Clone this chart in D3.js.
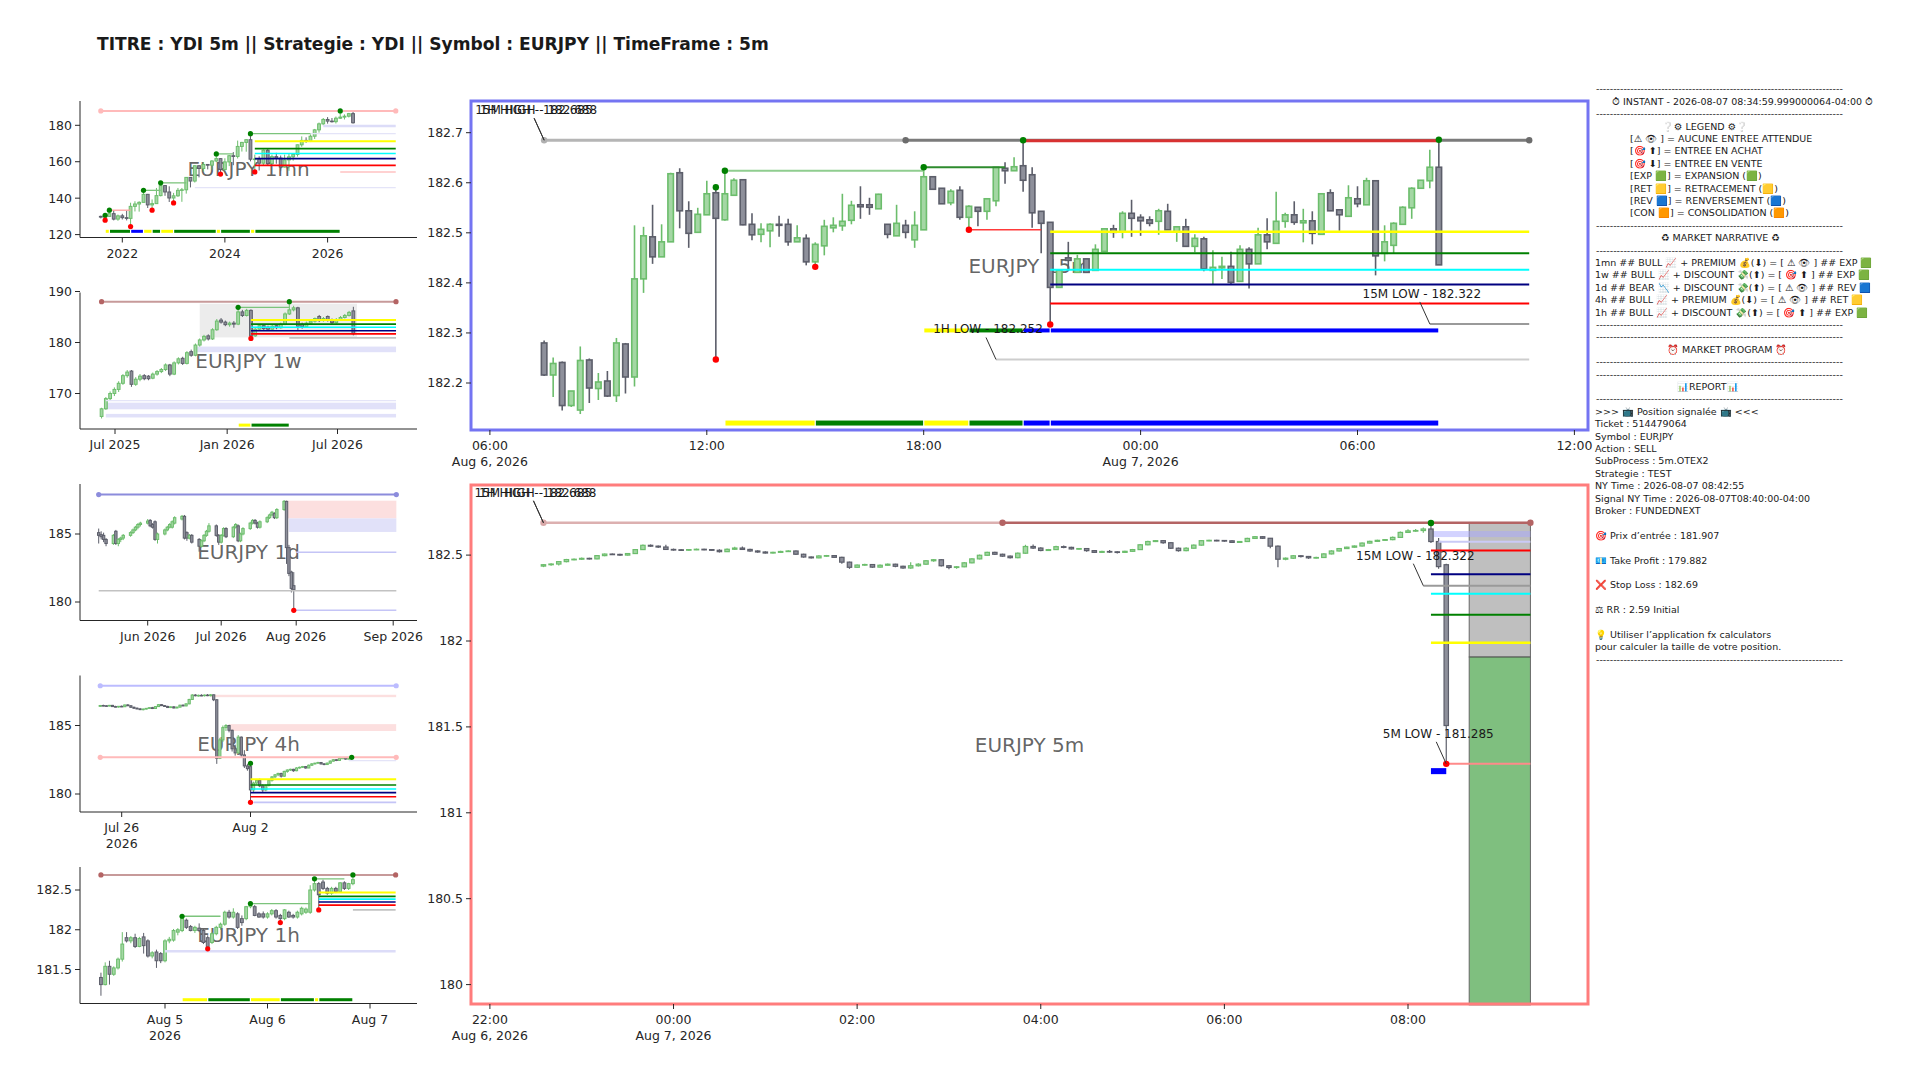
<!DOCTYPE html>
<html>
<head>
<meta charset="utf-8">
<script src="https://cdn.jsdelivr.net/npm/d3@7"></script>
<style>
  body { margin: 0; background: #fff; }
  svg { font-family: "DejaVu Sans", "Noto Sans", sans-serif; }
</style>
</head>
<body>
<svg id="chart" width="1920" height="1080"></svg>
<script>
const title = "TITRE : YDI 5m || Strategie : YDI || Symbol : EURJPY || TimeFrame : 5m";
const symbol = "EURJPY";

// ---------- main top chart : 15m candles [open, high, low, close]
const m15Start = "2026-08-06 07:30";
const m15 = [
  [182.280,182.285,182.214,182.216],[182.216,182.251,182.172,182.239],[182.241,182.243,182.145,182.155],[182.155,182.184,182.152,182.184],
  [182.146,182.273,182.138,182.245],[182.246,182.249,182.160,182.190],[182.189,182.220,182.166,182.202],[182.204,182.224,182.172,182.174],
  [182.175,182.290,182.162,182.280],[182.278,182.280,182.179,182.212],[182.212,182.515,182.193,182.408],[182.408,182.512,182.380,182.494],
  [182.492,182.556,182.438,182.452],[182.452,182.517,182.452,182.482],[182.482,182.620,182.482,182.618],[182.620,182.629,182.509,182.544],
  [182.544,182.563,182.470,182.499],[182.501,182.550,182.501,182.537],[182.536,182.604,182.536,182.578],[182.580,182.591,182.247,182.529],
  [182.526,182.624,182.524,182.578],[182.575,182.609,182.575,182.605],[182.606,182.606,182.515,182.516],[182.517,182.539,182.485,182.496],
  [182.497,182.519,182.481,182.507],[182.504,182.519,182.471,182.517],[182.517,182.534,182.492,182.515],[182.517,182.528,182.474,182.482],
  [182.482,182.515,182.482,182.490],[182.489,182.497,182.435,182.442],[182.442,182.481,182.432,182.477],[182.474,182.526,182.455,182.513],
  [182.510,182.531,182.501,182.515],[182.514,182.578,182.504,182.523],[182.525,182.564,182.517,182.555],[182.556,182.593,182.528,182.552],
  [182.556,182.570,182.536,182.551],[182.548,182.578,182.548,182.577],[182.517,182.517,182.489,182.497],[182.494,182.556,182.494,182.519],
  [182.515,182.526,182.489,182.501],[182.486,182.543,182.470,182.515],[182.506,182.631,182.506,182.612],[182.612,182.612,182.587,182.587],
  [182.589,182.589,182.558,182.558],[182.560,182.587,182.555,182.583],[182.585,182.593,182.526,182.531],[182.531,182.555,182.506,182.553],
  [182.551,182.551,182.513,182.543],[182.543,182.568,182.526,182.568],[182.564,182.631,182.553,182.631],[182.629,182.641,182.598,182.624],
  [182.624,182.651,182.624,182.632],[182.634,182.685,182.582,182.605],[182.616,182.631,182.510,182.540],[182.543,182.543,182.459,182.519],
  [182.521,182.521,182.317,182.391],[182.391,182.425,182.391,182.425],[182.450,182.482,182.425,182.445],[182.421,182.456,182.421,182.448],
  [182.448,182.448,182.421,182.421],[182.425,182.477,182.425,182.467],[182.463,182.509,182.463,182.508],[182.508,182.516,182.490,182.501],
  [182.502,182.543,182.489,182.539],[182.539,182.566,182.492,182.529],[182.531,182.537,182.494,182.524],[182.526,182.533,182.513,182.519],
  [182.523,182.548,182.496,182.544],[182.543,182.558,182.506,182.506],[182.502,182.512,182.482,182.512],[182.512,182.528,182.473,182.473],
  [182.473,182.497,182.461,182.489],[182.488,182.492,182.423,182.428],[182.425,182.465,182.398,182.431],[182.430,182.452,182.408,182.433],
  [182.433,182.462,182.396,182.401],[182.403,182.475,182.403,182.467],[182.467,182.471,182.389,182.438],[182.438,182.510,182.438,182.496],
  [182.496,182.529,182.467,182.482],[182.479,182.582,182.479,182.523],[182.523,182.540,182.510,182.536],[182.536,182.563,182.516,182.521],
  [182.520,182.548,182.481,182.524],[182.524,182.543,182.477,182.499],[182.497,182.578,182.497,182.578],[182.580,182.587,182.544,182.544],
  [182.546,182.546,182.504,182.536],[182.533,182.595,182.533,182.570],[182.568,182.593,182.551,182.558],[182.556,182.610,182.556,182.604],
  [182.604,182.605,182.415,182.454],[182.459,182.515,182.443,182.482],[182.475,182.521,182.459,182.519],[182.517,182.553,182.517,182.551],
  [182.550,182.591,182.528,182.589],[182.589,182.605,182.589,182.605],[182.604,182.666,182.589,182.631],[182.631,182.686,182.436,182.436]
];
const m15Levels = [
  ["2026-08-06 07:30", "2026-08-06 17:30", 182.685, "hiOld"],
  ["2026-08-06 17:30", "2026-08-07 10:45", 182.685, "hiNew"],
  ["2026-08-06 20:45", "2026-08-07 08:15", 182.684, "broken"],
  ["2026-08-06 12:30", "2026-08-06 18:00", 182.624, "swingOld"],
  ["2026-08-06 18:00", "2026-08-06 20:15", 182.631, "swing"],
  ["2026-08-06 19:15", "2026-08-06 21:15", 182.506, "swingLo"],
  ["2026-08-06 21:30", "2026-08-07 10:45", 182.502, "fibY"],
  ["2026-08-06 21:30", "2026-08-07 10:45", 182.459, "fibG"],
  ["2026-08-06 21:30", "2026-08-07 10:45", 182.426, "fibC"],
  ["2026-08-06 21:30", "2026-08-07 10:45", 182.397, "fibN"],
  ["2026-08-06 21:30", "2026-08-07 10:45", 182.359, "fibR"],
  ["2026-08-07 08:00", "2026-08-07 10:45", 182.318, "liq"],
  ["2026-08-06 20:00", "2026-08-07 10:45", 182.247, "liqLight"]
];
const m15Dots = [
  ["2026-08-06 07:30", 182.685, "endGray"], ["2026-08-06 17:30", 182.685, "endDark"], ["2026-08-07 10:45", 182.685, "endDark"],
  ["2026-08-06 12:15", 182.591, "hi"], ["2026-08-06 12:30", 182.624, "hi"], ["2026-08-06 18:00", 182.631, "hi"],
  ["2026-08-06 20:45", 182.685, "hi"], ["2026-08-07 08:15", 182.686, "hi"],
  ["2026-08-06 12:15", 182.247, "lo"], ["2026-08-06 15:00", 182.432, "lo"], ["2026-08-06 19:15", 182.506, "lo"], ["2026-08-06 21:30", 182.317, "lo"]
];
const m15PhaseLow = 182.12;
const m15PhasesLow = [
  ["2026-08-06 12:30", "2026-08-06 15:00", "RET"], ["2026-08-06 15:00", "2026-08-06 18:00", "EXP"],
  ["2026-08-06 18:00", "2026-08-06 19:15", "RET"], ["2026-08-06 19:15", "2026-08-06 20:45", "EXP"],
  ["2026-08-06 20:45", "2026-08-06 21:30", "REV"], ["2026-08-06 21:30", "2026-08-07 08:15", "REV"]
];
const m15PhaseMid = 182.305;
const m15PhasesMid = [
  ["2026-08-06 18:00", "2026-08-06 19:15", "RET"], ["2026-08-06 19:15", "2026-08-06 20:45", "EXP"],
  ["2026-08-06 20:45", "2026-08-06 21:30", "REV"], ["2026-08-06 21:30", "2026-08-07 08:15", "REV"]
];
const m15Notes = [
  ["15M HIGH - 182.688", "2026-08-06 07:30", 182.685],
  ["1H HIGH - 182.685", "2026-08-06 07:30", 182.685],
  ["1H LOW - 182.252", "2026-08-06 20:00", 182.247],
  ["15M LOW - 182.322", "2026-08-07 08:00", 182.318]
];
const m15XTicks = [
  ["2026-08-06 06:00", "06:00", "Aug 6, 2026"], ["2026-08-06 12:00", "12:00", ""], ["2026-08-06 18:00", "18:00", ""],
  ["2026-08-07 00:00", "00:00", "Aug 7, 2026"], ["2026-08-07 06:00", "06:00", ""], ["2026-08-07 12:00", "12:00", ""]
];
const m15YTicks = [182.2, 182.3, 182.4, 182.5, 182.6, 182.7];

// ---------- main bottom chart : 5m candles
const m5Start = "2026-08-06 22:35";
const m5 = [
  [182.436,182.447,182.430,182.444],[182.444,182.452,182.438,182.448],[182.448,182.466,182.440,182.462],[182.462,182.478,182.458,182.474],
  [182.474,182.480,182.470,182.476],[182.476,182.486,182.472,182.481],[182.481,182.484,182.474,182.478],[182.478,182.500,182.476,182.497],
  [182.497,182.510,182.494,182.506],[182.506,182.510,182.500,182.504],[182.504,182.508,182.496,182.500],[182.500,182.512,182.498,182.509],
  [182.509,182.536,182.506,182.532],[182.532,182.562,182.530,182.557],[182.557,182.562,182.548,182.552],[182.552,182.556,182.542,182.547],
  [182.547,182.560,182.530,182.533],[182.533,182.538,182.526,182.531],[182.531,182.535,182.524,182.529],[182.529,182.536,182.526,182.532],
  [182.532,182.538,182.529,182.534],[182.534,182.537,182.528,182.532],[182.532,182.536,182.525,182.528],[182.528,182.534,182.515,182.520],
  [182.520,182.538,182.518,182.534],[182.534,182.548,182.530,182.541],[182.541,182.550,182.530,182.533],[182.533,182.537,182.520,182.524],
  [182.524,182.528,182.514,182.518],[182.518,182.522,182.509,182.512],[182.512,182.520,182.509,182.516],[182.516,182.525,182.513,182.521],
  [182.521,182.528,182.518,182.524],[182.524,182.527,182.500,182.505],[182.505,182.508,182.485,182.489],[182.489,182.492,182.480,182.484],
  [182.484,182.499,182.482,182.495],[182.495,182.501,182.490,182.497],[182.497,182.500,182.484,182.487],[182.487,182.490,182.450,182.459],
  [182.459,182.462,182.420,182.429],[182.429,182.446,182.426,182.442],[182.442,182.450,182.438,182.445],[182.445,182.448,182.426,182.430],
  [182.430,182.445,182.428,182.441],[182.441,182.451,182.438,182.447],[182.447,182.450,182.430,182.435],[182.435,182.438,182.420,182.425],
  [182.425,182.459,182.420,182.438],[182.438,182.452,182.434,182.447],[182.447,182.472,182.444,182.467],[182.467,182.478,182.462,182.473],
  [182.473,182.476,182.434,182.438],[182.438,182.441,182.418,182.428],[182.428,182.436,182.420,182.432],[182.432,182.460,182.430,182.455],
  [182.455,182.482,182.452,182.478],[182.478,182.503,182.475,182.499],[182.499,182.520,182.496,182.516],[182.516,182.519,182.500,182.505],
  [182.505,182.508,182.490,182.494],[182.494,182.497,182.480,182.485],[182.485,182.515,182.482,182.511],[182.511,182.560,182.508,182.550],
  [182.550,182.562,182.536,182.541],[182.541,182.545,182.522,182.527],[182.527,182.536,182.524,182.532],[182.532,182.554,182.530,182.549],
  [182.549,182.556,182.540,182.545],[182.545,182.548,182.532,182.536],[182.536,182.541,182.532,182.538],[182.538,182.540,182.520,182.526],
  [182.526,182.529,182.512,182.516],[182.516,182.526,182.512,182.521],[182.521,182.530,182.512,182.519],[182.519,182.522,182.510,182.516],
  [182.516,182.526,182.514,182.522],[182.522,182.536,182.520,182.532],[182.532,182.564,182.530,182.560],[182.560,182.583,182.558,182.579],
  [182.579,182.588,182.576,182.584],[182.584,182.588,182.566,182.572],[182.572,182.575,182.535,182.540],[182.540,182.544,182.520,182.526],
  [182.526,182.545,182.523,182.540],[182.540,182.562,182.538,182.558],[182.558,182.588,182.555,182.584],[182.584,182.590,182.580,182.586],
  [182.586,182.590,182.581,182.585],[182.585,182.588,182.578,182.583],[182.583,182.586,182.570,182.574],[182.574,182.582,182.571,182.579],
  [182.579,182.601,182.576,182.597],[182.597,182.611,182.594,182.607],[182.607,182.610,182.594,182.598],[182.598,182.600,182.540,182.552],
  [182.552,182.556,182.430,182.476],[182.476,182.486,182.470,182.482],[182.482,182.500,182.478,182.496],[182.496,182.499,182.486,182.492],
  [182.492,182.495,182.478,182.484],[182.484,182.490,182.480,182.486],[182.486,182.511,182.483,182.507],[182.507,182.528,182.504,182.524],
  [182.524,182.541,182.521,182.538],[182.538,182.549,182.535,182.546],[182.546,182.556,182.543,182.553],[182.553,182.574,182.550,182.570],
  [182.570,182.583,182.567,182.580],[182.580,182.589,182.577,182.586],[182.586,182.594,182.583,182.590],[182.590,182.608,182.587,182.603],
  [182.603,182.638,182.600,182.632],[182.632,182.650,182.628,182.641],[182.641,182.652,182.636,182.643],[182.643,182.660,182.630,182.652],
  [182.652,182.687,182.570,182.579],[182.579,182.600,182.420,182.433],[182.444,182.450,181.285,181.508]
];
const m5Levels = [
  ["2026-08-06 22:35", "2026-08-07 03:35", 182.688, "hiOld5"],
  ["2026-08-07 03:35", "2026-08-07 09:20", 182.688, "hiNew5"],
  ["2026-08-07 08:20", "2026-08-07 09:20", 182.577, "zoneLine"],
  ["2026-08-07 08:15", "2026-08-07 09:20", 182.527, "fibR"],
  ["2026-08-07 08:15", "2026-08-07 09:20", 182.388, "fibN"],
  ["2026-08-07 08:10", "2026-08-07 09:20", 182.322, "liq"],
  ["2026-08-07 08:15", "2026-08-07 09:20", 182.275, "fibC"],
  ["2026-08-07 08:15", "2026-08-07 09:20", 182.153, "fibG"],
  ["2026-08-07 08:15", "2026-08-07 09:20", 181.990, "fibY"],
  ["2026-08-07 08:25", "2026-08-07 09:20", 181.285, "loLine"]
];
const m5Zones = [
  ["2026-08-07 08:15", "2026-08-07 09:20", 182.605, 182.640, "zone"],
  ["2026-08-07 08:15", "2026-08-07 08:25", 181.225, 181.260, "block"]
];
const m5Dots = [
  ["2026-08-06 22:35", 182.688, "endRosyLight"], ["2026-08-07 03:35", 182.688, "endRosy"], ["2026-08-07 09:20", 182.688, "endRosy"],
  ["2026-08-07 08:15", 182.687, "hi"], ["2026-08-07 08:25", 181.285, "lo"]
];
const m5Notes = [
  ["15M HIGH - 182.688", "2026-08-06 22:35", 182.688],
  ["1H HIGH - 182.685", "2026-08-06 22:35", 182.688],
  ["15M LOW - 182.322", "2026-08-07 08:10", 182.322],
  ["5M LOW - 181.285", "2026-08-07 08:25", 181.285]
];
const entryPrice = 181.907, takeProfit = 179.882, stopLoss = 182.69;
const tradeFrom = "2026-08-07 08:40", tradeTo = "2026-08-07 09:20";
const m5XTicks = [
  ["2026-08-06 22:00", "22:00", "Aug 6, 2026"], ["2026-08-07 00:00", "00:00", "Aug 7, 2026"], ["2026-08-07 02:00", "02:00", ""],
  ["2026-08-07 04:00", "04:00", ""], ["2026-08-07 06:00", "06:00", ""], ["2026-08-07 08:00", "08:00", ""]
];
const m5YTicks = [180, 180.5, 181, 181.5, 182, 182.5];

// ---------- small panel 1mn : monthly candles
const mnStart = "2021-08-01";
const mn = [
  [130.0,130.4,128.9,129.6],[129.6,130.6,127.9,130.0],[130.0,133.4,129.7,131.5],[131.5,133.2,127.8,128.5],[128.5,131.0,127.6,130.3],
  [130.3,131.4,128.3,129.3],[129.3,133.1,127.8,128.9],[128.9,137.5,124.4,135.5],[135.5,138.3,132.7,136.8],[136.8,138.3,132.6,137.7],
  [137.7,144.3,137.7,142.1],[142.1,142.3,134.6,136.3],[136.3,139.3,133.4,137.0],[137.0,145.6,137.0,141.4],[141.4,148.4,141.0,146.9],
  [146.9,147.0,141.3,143.4],[143.4,146.5,137.9,140.1],[140.1,142.9,137.4,141.3],[141.3,145.6,140.7,144.3],[144.3,145.6,138.0,144.6],
  [144.6,151.6,142.5,151.4],[151.4,151.6,145.9,149.4],[149.4,158.0,148.6,157.8],[157.8,158.0,151.4,156.3],[156.3,159.8,154.6,158.5],
  [158.5,158.7,155.8,158.1],[158.1,160.9,155.6,160.4],[160.4,164.3,159.8,161.7],[161.7,162.0,153.2,155.7],[155.7,161.9,155.1,159.9],
  [159.9,163.7,157.6,163.3],[163.3,165.3,158.1,162.9],[162.9,171.6,161.8,168.4],[168.4,170.9,165.6,170.6],[170.6,172.4,165.5,172.1],
  [172.1,175.4,160.2,161.4],[161.4,163.9,154.4,161.5],[161.5,163.0,155.2,159.2],[159.2,166.7,157.9,166.3],[166.3,167.0,158.3,158.9],
  [158.9,163.9,158.7,162.8],[162.8,164.9,158.9,162.0],[162.0,163.4,154.8,157.1],[157.1,163.9,156.8,161.0],[161.0,164.3,155.0,162.7],
  [162.7,164.6,160.6,164.0],[164.0,169.4,162.8,169.3],[169.3,173.9,168.2,171.7],[171.7,173.4,170.4,171.2],[171.2,175.0,170.8,174.0],
  [174.0,178.0,172.5,177.5],[177.5,181.5,176.0,180.8],[180.8,184.0,180.0,183.2],[183.2,184.5,180.9,182.3],[182.3,184.0,181.5,182.0],
  [182.0,184.8,181.0,183.9],[183.9,187.9,183.5,184.5],[184.5,186.0,183.2,185.0],[185.0,186.8,184.3,186.4],[186.4,187.5,180.9,181.4]
];
const mnLevels = [
  ["2021-08-01", "2027-05-01", 187.9, "pinkTop"], ["2025-12-01", "2027-05-01", 179.6, "lav"],
  ["2025-09-01", "2027-05-01", 175.4, "lavThin"], ["2023-06-01", "2027-05-01", 145.8, "lavThin"],
  ["2024-08-01", "2027-05-01", 171.2, "fibY"], ["2024-08-01", "2027-05-01", 167.2, "fibG"],
  ["2024-08-01", "2027-05-01", 164.5, "fibC"], ["2024-08-01", "2027-05-01", 161.7, "fibN"],
  ["2024-08-01", "2027-05-01", 158.0, "fibR"], ["2026-04-01", "2027-05-01", 154.4, "pink"],
  ["2021-10-01", "2022-03-01", 133.4, "swingDn"], ["2022-06-01", "2022-10-01", 144.3, "swingUp"],
  ["2022-10-01", "2023-04-01", 148.4, "swingUp"], ["2023-11-01", "2024-03-01", 164.3, "swingUp"],
  ["2024-07-01", "2025-09-01", 175.4, "swingUp"]
];
const mnDots = [
  ["2021-08-01", 187.9, "endPink"], ["2027-05-01", 187.9, "endPink"],
  ["2021-09-01", 130.6, "hi"], ["2021-10-01", 133.4, "hi"], ["2022-06-01", 144.3, "hi"], ["2022-10-01", 148.4, "hi"],
  ["2023-11-01", 164.3, "hi"], ["2024-07-01", 175.4, "hi"], ["2026-04-01", 187.9, "hi"],
  ["2021-09-01", 127.9, "lo"], ["2022-03-01", 124.4, "lo"], ["2022-08-01", 133.4, "lo"], ["2023-01-01", 137.4, "lo"],
  ["2023-12-01", 153.2, "lo"], ["2024-08-01", 154.4, "lo"]
];
const mnPhaseLevel = 121.8;
const mnPhases = [
  ["2021-09-01", "2021-10-01", "RET"], ["2021-10-01", "2022-03-01", "EXP"], ["2022-03-01", "2022-06-01", "REV"],
  ["2022-06-01", "2022-08-01", "RET"], ["2022-08-01", "2022-10-01", "EXP"], ["2022-10-01", "2023-01-01", "RET"],
  ["2023-01-01", "2023-11-01", "EXP"], ["2023-11-01", "2023-12-01", "RET"], ["2023-12-01", "2024-07-01", "EXP"],
  ["2024-07-01", "2024-08-01", "RET"], ["2024-08-01", "2026-04-01", "EXP"]
];
const mnXTicks = [["2022-01-01", "2022", ""], ["2024-01-01", "2024", ""], ["2026-01-01", "2026", ""]];
const mnYTicks = [120, 140, 160, 180];

// ---------- small panel 1w : weekly candles
const wkStart = "2025-06-09";
const wk = [
  [165.5,167.2,165.1,167.0],[167.0,169.3,166.8,169.0],[169.0,170.4,168.6,170.0],[170.0,171.2,169.5,170.8],[170.8,172.4,170.3,172.0],
  [172.0,173.8,171.7,173.5],[173.5,174.6,173.1,174.2],[174.4,174.6,171.3,171.8],[171.8,173.2,171.5,172.8],[172.8,173.8,172.4,173.4],
  [173.5,173.8,172.6,172.9],[173.4,173.6,172.6,172.9],[173.0,174.1,172.8,173.8],[173.8,174.6,173.5,174.3],[174.3,175.0,174.0,174.7],
  [174.7,175.9,174.4,175.6],[175.6,175.8,173.4,173.8],[173.8,176.3,173.6,176.0],[176.0,177.1,175.7,176.8],[176.9,177.2,175.6,175.9],
  [175.9,178.3,175.7,178.0],[178.2,178.6,177.2,177.5],[177.5,179.8,177.3,179.5],[179.5,180.8,179.2,180.5],[180.5,181.5,180.2,181.2],
  [181.3,181.6,180.4,180.7],[180.7,182.8,180.5,182.5],[182.5,184.6,182.3,184.2],[184.4,184.8,183.7,184.0],[184.0,184.3,183.2,183.5],
  [183.5,184.1,183.1,183.8],[183.8,184.2,182.9,183.6],[183.6,186.9,183.4,186.0],[186.0,186.4,185.0,185.3],[185.3,186.6,185.1,186.3],
  [186.3,186.5,180.8,181.3],[181.3,182.9,181.1,182.6],[182.6,183.6,182.4,183.3],[183.3,183.5,182.4,182.7],[183.0,183.3,182.3,182.6],
  [182.6,183.5,182.4,183.2],[183.3,183.6,182.6,182.9],[182.9,183.9,182.7,183.6],[183.6,185.9,183.4,185.6],[185.6,188.0,185.4,186.4],
  [186.4,187.2,186.1,186.8],[186.8,187.0,182.3,183.2],[183.6,183.9,182.7,183.1],[183.1,184.1,182.9,183.8],[183.8,184.5,183.5,184.2],
  [184.2,184.9,183.9,184.7],[185.1,185.4,184.0,184.3],[184.3,185.0,184.1,184.7],[185.1,185.3,184.1,184.4],[184.4,184.7,183.6,183.9],
  [183.9,184.8,183.7,184.5],[184.5,185.2,184.3,184.9],[184.9,185.6,184.7,185.3],[185.3,186.2,185.1,185.9],[186.2,187.0,181.4,181.7]
];
const wkZones = [
  ["2025-11-17", "2026-08-02", 181.0, 187.6, "box"],
  ["2025-11-10", "2026-10-05", 178.1, 179.2, "lavBand"],
  ["2025-06-16", "2026-10-05", 166.9, 168.2, "lavBand"],
  ["2025-06-16", "2026-10-05", 165.3, 166.0, "lavBand"]
];
const wkLevels = [
  ["2025-06-09", "2026-10-05", 188.0, "rosyTop"], ["2025-06-16", "2026-10-05", 168.6, "lavThin"],
  ["2026-01-19", "2026-04-13", 186.9, "swingUp"],
  ["2026-02-09", "2026-10-05", 184.4, "fibY"], ["2026-02-09", "2026-10-05", 183.6, "fibG"],
  ["2026-02-09", "2026-10-05", 183.0, "fibC"], ["2026-02-09", "2026-10-05", 182.3, "fibN"],
  ["2026-02-09", "2026-10-05", 181.7, "fibR"], ["2026-04-13", "2026-10-05", 180.9, "gray"]
];
const wkDots = [
  ["2025-06-09", 188.0, "endRosy"], ["2026-10-05", 188.0, "endRosy"],
  ["2026-01-19", 186.9, "hi"], ["2026-04-13", 188.0, "hi"], ["2026-02-09", 180.8, "lo"]
];
const wkPhaseLevel = 163.8;
const wkPhases = [["2026-01-19", "2026-02-09", "RET"], ["2026-02-09", "2026-04-13", "EXP"]];
const wkXTicks = [["2025-07-01", "Jul 2025", ""], ["2026-01-01", "Jan 2026", ""], ["2026-07-01", "Jul 2026", ""]];
const wkYTicks = [170, 180, 190];

// ---------- small panel 1d : daily candles (weekdays)
const d1Start = "2026-05-12";
const d1 = [
  [185.10,185.40,184.30,184.90],[184.95,185.20,184.60,184.80],[184.90,185.10,184.40,184.60],[184.60,184.70,184.10,184.30],
  [184.30,185.00,184.20,184.90],[185.20,185.30,184.20,184.30],[184.30,184.70,184.10,184.60],[184.60,184.80,184.40,184.70],
  [184.70,185.00,184.55,184.90],[184.90,185.20,184.80,185.10],[185.10,185.40,185.00,185.30],[185.30,185.60,185.20,185.50],
  [185.50,185.80,185.35,185.70],[185.70,185.90,185.55,185.80],[185.80,186.10,185.70,185.95],[186.00,186.10,185.50,185.60],
  [185.70,185.80,185.40,185.50],[185.90,186.00,184.50,184.60],[184.60,185.10,184.30,185.00],[185.00,185.40,184.90,185.30],
  [185.30,185.60,185.20,185.50],[185.50,185.80,185.40,185.70],[185.50,186.00,185.40,185.90],[185.80,186.30,185.70,186.20],
  [186.10,186.40,186.00,186.30],[186.30,186.40,184.60,184.70],[185.10,185.20,184.50,184.70],[184.70,185.00,184.60,184.90],
  [184.90,185.00,184.30,184.40],[184.60,184.70,183.70,184.10],[184.10,184.60,184.00,184.50],[184.50,185.00,184.40,184.90],
  [184.90,185.30,184.80,185.20],[185.20,185.80,185.10,185.60],[185.60,185.70,184.80,184.90],[184.90,185.00,184.20,184.40],
  [184.40,185.00,184.30,184.90],[184.90,185.50,184.80,185.40],[185.40,185.50,184.70,184.80],[184.80,185.60,184.70,185.50],
  [185.50,185.80,185.40,185.70],[185.60,185.70,184.40,184.50],[184.50,185.10,184.40,185.00],[185.00,185.50,184.90,185.40],
  [185.40,185.90,185.30,185.80],[185.80,186.10,185.70,186.00],[186.00,186.10,185.70,185.80],[185.80,185.90,185.40,185.50],
  [185.50,186.00,185.40,185.90],[185.90,186.30,185.80,186.20],[186.20,186.50,186.10,186.40],[186.40,186.70,186.30,186.60],
  [186.50,186.60,186.10,186.20],[186.20,186.90,186.10,186.80],[186.80,187.50,186.70,187.40],[187.40,187.45,182.80,184.00],
  [184.00,184.20,181.90,182.10],[182.20,182.30,180.70,181.00],[181.20,182.20,179.39,180.90]
];
const d1Zones = [
  ["2026-07-28", "2026-09-02", 186.15, 187.45, "pinkBand"],
  ["2026-07-29", "2026-09-02", 185.15, 186.15, "lavBand"]
];
const d1Levels = [
  ["2026-05-12", "2026-09-02", 187.9, "blueTop"], ["2026-08-01", "2026-09-02", 183.66, "lavMid"],
  ["2026-05-12", "2026-09-02", 180.83, "gray"], ["2026-07-31", "2026-09-02", 179.39, "lavMid"]
];
const d1Dots = [["2026-05-12", 187.9, "endBlue"], ["2026-09-02", 187.9, "endBlue"], ["2026-07-31", 179.39, "lo"]];
const d1XTicks = [["2026-06-01", "Jun 2026", ""], ["2026-07-01", "Jul 2026", ""], ["2026-08-01", "Aug 2026", ""], ["2026-09-01", "Sep 2026", ""]];
const d1YTicks = [180, 185];

// ---------- small panel 4h
const h4Start = "2026-07-24 20:00";
const h4 = [
  [186.40,186.50,186.35,186.46],[186.46,186.52,186.40,186.44],[186.44,186.48,186.38,186.42],[186.42,186.50,186.40,186.47],
  [186.47,186.50,186.36,186.38],[186.38,186.44,186.33,186.36],[186.36,186.42,186.30,186.40],[186.40,186.46,186.34,186.37],
  [186.37,186.52,186.35,186.50],[186.50,186.56,186.42,186.44],[186.44,186.48,186.30,186.33],[186.33,186.38,186.22,186.26],
  [186.26,186.32,186.18,186.21],[186.21,186.28,186.12,186.16],[186.16,186.24,186.10,186.20],[186.20,186.28,186.16,186.25],
  [186.25,186.34,186.21,186.30],[186.30,186.36,186.20,186.24],[186.24,186.40,186.22,186.38],[186.38,186.55,186.35,186.52],
  [186.52,186.56,186.42,186.45],[186.45,186.48,186.36,186.39],[186.39,186.44,186.28,186.31],[186.31,186.40,186.27,186.36],
  [186.36,186.41,186.25,186.28],[186.28,186.38,186.25,186.34],[186.34,186.52,186.32,186.48],[186.48,186.54,186.40,186.43],
  [186.43,186.62,186.40,186.58],[186.58,186.95,186.55,186.90],[186.90,187.30,186.86,187.22],[187.22,187.30,187.12,187.18],
  [187.18,187.26,187.10,187.20],[187.20,187.28,187.14,187.19],[187.19,187.26,187.12,187.22],[187.22,187.30,187.14,187.18],
  [187.18,187.30,187.12,187.24],[187.24,187.26,186.78,186.88],[186.88,186.92,182.20,182.60],[182.60,184.10,182.55,183.95],
  [183.95,185.00,183.80,184.85],[184.85,185.10,184.60,185.00],[185.00,185.05,184.50,184.65],[184.65,184.70,183.10,183.30],
  [183.30,183.60,182.80,183.00],[183.00,184.30,182.95,184.15],[184.15,184.20,182.70,182.85],[182.85,183.20,181.90,182.05],
  [182.05,182.20,181.70,181.85],[182.00,182.24,179.39,180.30],[180.30,180.90,180.10,180.80],[180.80,181.10,180.70,181.00],
  [181.00,181.12,180.50,180.60],[180.60,180.70,180.10,180.30],[180.30,180.70,180.20,180.62],[180.62,181.05,180.55,181.00],
  [181.00,181.30,180.90,181.25],[181.25,181.45,181.15,181.40],[181.40,181.55,181.30,181.50],[181.50,181.55,181.20,181.30],
  [181.30,181.70,181.25,181.65],[181.65,181.80,181.55,181.75],[181.75,181.85,181.68,181.80],[181.80,181.84,181.62,181.70],
  [181.70,181.95,181.66,181.90],[181.90,182.00,181.85,181.95],[181.95,182.05,181.90,182.00],[182.00,182.04,181.85,181.90],
  [181.90,182.15,181.88,182.10],[182.10,182.25,182.05,182.20],[182.20,182.28,182.15,182.25],[182.25,182.35,182.20,182.30],
  [182.30,182.33,182.15,182.20],[182.20,182.24,182.10,182.15],[182.15,182.30,182.12,182.25],[182.25,182.45,182.22,182.40],
  [182.40,182.55,182.36,182.50],[182.50,182.54,182.40,182.45],[182.45,182.63,182.42,182.60],[182.60,182.66,182.55,182.62],
  [182.62,182.64,182.50,182.55],[182.55,182.65,182.52,182.62],[182.62,182.68,182.58,182.66]
];
const h4Zones = [
  ["2026-07-30 20:00", "2026-08-09 22:00", 187.07, 187.24, "pinkBand"],
  ["2026-07-31 20:00", "2026-08-09 22:00", 184.60, 185.10, "pinkBand"]
];
const h4Levels = [
  ["2026-07-24 20:00", "2026-08-09 22:00", 187.9, "lavTop"], ["2026-07-24 20:00", "2026-08-09 22:00", 182.68, "pinkTop"],
  ["2026-08-07 08:00", "2026-08-09 22:00", 182.44, "lavThin"],
  ["2026-08-02 00:00", "2026-08-09 22:00", 181.07, "fibY"], ["2026-08-02 00:00", "2026-08-09 22:00", 180.66, "fibG"],
  ["2026-08-02 00:00", "2026-08-09 22:00", 180.37, "fibC"], ["2026-08-02 00:00", "2026-08-09 22:00", 180.10, "fibN"],
  ["2026-08-02 00:00", "2026-08-09 22:00", 179.80, "fibR"], ["2026-08-02 04:00", "2026-08-09 22:00", 179.39, "lavMid"]
];
const h4Dots = [
  ["2026-07-24 20:00", 187.9, "endLav"], ["2026-08-09 22:00", 187.9, "endLav"],
  ["2026-07-24 20:00", 182.68, "endPink"], ["2026-08-09 22:00", 182.68, "endPink"],
  ["2026-08-02 00:00", 182.24, "hi"], ["2026-08-07 12:00", 182.68, "hi"], ["2026-08-02 00:00", 179.39, "lo"]
];
const h4XTicks = [["2026-07-26", "Jul 26", "2026"], ["2026-08-02", "Aug 2", ""]];
const h4YTicks = [180, 185];

// ---------- small panel 1h
const h1Start = "2026-08-04 09:00";
const h1 = [
  [181.40,181.46,181.17,181.31],[181.31,181.59,181.30,181.54],[181.54,181.61,181.31,181.44],[181.44,181.54,181.42,181.52],
  [181.52,181.65,181.50,181.63],[181.63,181.97,181.60,181.82],[181.90,181.97,181.84,181.86],[181.86,181.92,181.83,181.90],
  [181.90,181.95,181.77,181.79],[181.79,181.91,181.78,181.89],[181.91,181.96,181.70,181.80],[181.86,181.88,181.65,181.67],
  [181.67,181.73,181.64,181.71],[181.72,181.75,181.52,181.61],[181.70,181.72,181.58,181.61],[181.61,181.88,181.59,181.86],
  [181.86,181.91,181.83,181.88],[181.87,182.01,181.85,181.99],[181.97,182.02,181.93,182.00],[181.99,182.17,181.97,182.14],
  [182.12,182.14,182.01,182.03],[182.04,182.06,181.98,181.99],[181.99,182.05,181.96,182.03],[182.02,182.08,181.97,181.99],
  [181.99,182.01,181.82,181.84],[181.90,181.93,181.76,181.78],[181.84,181.97,181.82,181.95],[181.95,182.05,181.93,182.03],
  [182.03,182.09,182.00,182.07],[182.07,182.24,182.05,182.22],[182.22,182.25,182.14,182.16],[182.16,182.27,182.14,182.22],
  [182.20,182.22,182.01,182.03],[182.14,182.18,182.05,182.09],[182.14,182.30,182.12,182.29],[182.29,182.33,182.27,182.31],
  [182.29,182.31,182.17,182.18],[182.20,182.22,182.15,182.16],[182.20,182.23,182.14,182.16],[182.16,182.22,182.14,182.20],
  [182.20,182.26,182.18,182.24],[182.24,182.26,182.14,182.16],[182.18,182.20,182.09,182.14],[182.14,182.26,182.12,182.25],
  [182.22,182.24,182.15,182.16],[182.18,182.20,182.14,182.16],[182.16,182.24,182.14,182.22],[182.20,182.29,182.18,182.27],
  [182.22,182.28,182.20,182.26],[182.22,182.56,182.20,182.50],[182.50,182.64,182.48,182.58],[182.58,182.60,182.25,182.44],
  [182.60,182.63,182.50,182.52],[182.52,182.54,182.44,182.46],[182.46,182.54,182.44,182.52],[182.52,182.54,182.46,182.48],
  [182.48,182.60,182.47,182.59],[182.59,182.61,182.50,182.52],[182.52,182.59,182.50,182.58],[182.58,182.69,182.56,182.63]
];
const h1Levels = [
  ["2026-08-04 09:00", "2026-08-07 06:00", 182.69, "rosyTop"],
  ["2026-08-05 04:00", "2026-08-05 13:00", 182.17, "swingUp"], ["2026-08-05 20:00", "2026-08-06 10:00", 182.33, "swingUp"],
  ["2026-08-06 11:00", "2026-08-06 18:00", 182.64, "swingUp"],
  ["2026-08-06 12:00", "2026-08-07 06:00", 182.47, "fibY"], ["2026-08-06 12:00", "2026-08-07 06:00", 182.42, "fibG"],
  ["2026-08-06 12:00", "2026-08-07 06:00", 182.385, "fibC"], ["2026-08-06 12:00", "2026-08-07 06:00", 182.35, "fibN"],
  ["2026-08-06 12:00", "2026-08-07 06:00", 182.31, "fibR"], ["2026-08-06 20:00", "2026-08-07 06:00", 182.25, "gray"],
  ["2026-08-05 00:00", "2026-08-07 06:00", 181.73, "lav"]
];
const h1Dots = [
  ["2026-08-04 09:00", 182.69, "endRosy"], ["2026-08-07 06:00", 182.69, "endRosy"],
  ["2026-08-05 04:00", 182.17, "hi"], ["2026-08-05 20:00", 182.33, "hi"], ["2026-08-06 11:00", 182.64, "hi"], ["2026-08-06 20:00", 182.69, "hi"],
  ["2026-08-05 10:00", 181.76, "lo"], ["2026-08-06 03:00", 182.09, "lo"], ["2026-08-06 12:00", 182.25, "lo"]
];
const h1PhaseLevel = 181.12;
const h1Phases = [
  ["2026-08-05 04:00", "2026-08-05 10:00", "RET"], ["2026-08-05 10:00", "2026-08-05 20:00", "EXP"],
  ["2026-08-05 20:00", "2026-08-06 03:00", "RET"], ["2026-08-06 03:00", "2026-08-06 11:00", "EXP"],
  ["2026-08-06 11:00", "2026-08-06 12:00", "RET"], ["2026-08-06 12:00", "2026-08-06 20:00", "EXP"]
];
const h1XTicks = [["2026-08-05", "Aug 5", "2026"], ["2026-08-06", "Aug 6", ""], ["2026-08-07", "Aug 7", ""]];
const h1YTicks = [181.5, 182, 182.5];

// ---------- report text (right column)
const reportLines = [
  ["rule", ""],
  ["instant", "⏱ INSTANT - 2026-08-07 08:34:59.999000064-04:00 ⏱"],
  ["rule", ""],
  ["hLegend", "❔⚙ LEGEND ⚙❔"],
  ["legend", "[⚠ 👁 ] = AUCUNE ENTREE ATTENDUE"],
  ["legend", "[🎯 ⬆] = ENTREE EN ACHAT"],
  ["legend", "[🎯 ⬇] = ENTREE EN VENTE"],
  ["legend", "[EXP 🟩] = EXPANSION (🟩)"],
  ["legend", "[RET 🟨] = RETRACEMENT (🟨)"],
  ["legend", "[REV 🟦] = RENVERSEMENT (🟦)"],
  ["legend", "[CON 🟧] = CONSOLIDATION (🟧)"],
  ["rule", ""],
  ["hNarr", "♻ MARKET NARRATIVE ♻"],
  ["rule", ""],
  ["body", "1mn ## BULL 📈 + PREMIUM 💰(⬇) = [ ⚠ 👁 ] ## EXP 🟩"],
  ["body", "1w ## BULL 📈 + DISCOUNT 💸(⬆) = [ 🎯 ⬆ ] ## EXP 🟩"],
  ["body", "1d ## BEAR 📉 + DISCOUNT 💸(⬆) = [ ⚠ 👁 ] ## REV 🟦"],
  ["body", "4h ## BULL 📈 + PREMIUM 💰(⬇) = [ ⚠ 👁 ] ## RET 🟨"],
  ["body", "1h ## BULL 📈 + DISCOUNT 💸(⬆) = [ 🎯 ⬆ ] ## EXP 🟩"],
  ["rule", ""], ["rule", ""],
  ["hProg", "⏰ MARKET PROGRAM ⏰"],
  ["rule", ""], ["rule", ""],
  ["hRep", "📊REPORT📊"],
  ["rule", ""],
  ["body", ">>> 📺 Position signalée 📺 <<<"],
  ["body", "Ticket : 514479064"],
  ["body", "Symbol : EURJPY"],
  ["body", "Action : SELL"],
  ["body", "SubProcess : 5m.OTEX2"],
  ["body", "Strategie : TEST"],
  ["body", "NY Time : 2026-08-07 08:42:55"],
  ["body", "Signal NY Time : 2026-08-07T08:40:00-04:00"],
  ["body", "Broker : FUNDEDNEXT"],
  ["body", ""],
  ["body", "🎯 Prix d’entrée : 181.907"],
  ["body", ""],
  ["body", "💶 Take Profit : 179.882"],
  ["body", ""],
  ["body", "❌ Stop Loss : 182.69"],
  ["body", ""],
  ["body", "⚖ RR : 2.59 Initial"],
  ["body", ""],
  ["body", "💡 Utiliser  l’application fx calculators"],
  ["body", "pour calculer la taille de votre position."],
  ["rule", ""]
];

// =====================================================================
const svg = d3.select("#chart");
const parseT = d3.timeParse("%Y-%m-%d %H:%M");
const T = s => parseT(s.length === 10 ? s + " 00:00" : s);
const INK = "#262626";

const UP = { line: "#6cbd6c", fill: "#a4d7a4" };
const DN = { line: "#5c5e6a", fill: "#8e909b" };

// [colour, width, opacity]
const LINE_STYLE = {
  hiOld: ["#b5b5b5", 3, 1], hiNew: ["#7b7b7b", 3, 1], broken: ["#d83232", 3, 1],
  swingOld: ["#8fcd8f", 2, 1], swing: ["#2e8b2e", 2, 1], swingLo: ["#ff3a3a", 1.6, 1],
  fibY: ["#ffff00", 2.5, 1], fibG: ["#008000", 2, 1], fibC: ["#00ffff", 2, 1], fibN: ["#000080", 2, 1], fibR: ["#ff0000", 2, 1],
  liq: ["#9a9a9a", 2, 1], liqLight: ["#cdcdcd", 2, 1],
  hiOld5: ["#dcb0b0", 2.5, 1], hiNew5: ["#b46464", 2.5, 1], zoneLine: ["#cacaf6", 2, 1], loLine: ["#ff8a8a", 2, 1],
  pinkTop: ["#ffbaba", 2.5, 1], rosyTop: ["#c79a9a", 2.5, 1], blueTop: ["#8c8cdc", 2.5, 1], lavTop: ["#bcbcff", 2.5, 1],
  lav: ["#dcdcf8", 3, 1], lavThin: ["#e4e4f8", 1.6, 1], lavMid: ["#c4c4f6", 2, 1], pink: ["#ffc2c2", 2, 1],
  gray: ["#c2c2c2", 2, 1], swingUp: ["#7cc47c", 1.6, 1], swingDn: ["#ff9c9c", 1.6, 1]
};
const DOT_STYLE = {
  hi: "#008000", lo: "#ff0000", endGray: "#b0b0b0", endDark: "#6c6c6c", endRosy: "#b46464", endRosyLight: "#d8a8a8",
  endPink: "#ffbaba", endBlue: "#8c8cdc", endLav: "#bcbcff"
};
const ZONE_STYLE = {
  zone: ["#a8a8ff", 0.5], block: ["#0000ff", 1], box: ["#d4d4d4", 0.45], lavBand: ["#dcdcf8", 0.85], pinkBand: ["#fcdcdc", 0.9]
};
const PHASE_COLOR = { RET: "#ffff00", EXP: "#008000", REV: "#0000ff" };

function drawCandles(g, data, times, x, y, bw, lw) {
  const up = d => d[3] >= d[0];
  const cg = g.append("g");
  cg.selectAll("line").data(data).join("line")
    .attr("x1", (d, i) => x(times[i])).attr("x2", (d, i) => x(times[i]))
    .attr("y1", d => y(d[1])).attr("y2", d => y(d[2]))
    .attr("stroke", d => up(d) ? UP.line : DN.line)
    .attr("stroke-width", lw);
  cg.selectAll("rect").data(data).join("rect")
    .attr("x", (d, i) => x(times[i]) - bw / 2)
    .attr("y", d => y(Math.max(d[0], d[3])))
    .attr("width", bw)
    .attr("height", d => Math.max(0.6, Math.abs(y(d[0]) - y(d[3]))))
    .attr("fill", d => up(d) ? UP.fill : DN.fill)
    .attr("stroke", d => up(d) ? UP.line : DN.line)
    .attr("stroke-width", lw);
}

function drawLevels(g, list, x, y, k = 1) {
  g.append("g").selectAll("line").data(list).join("line")
    .attr("x1", d => x(T(d[0]))).attr("x2", d => x(T(d[1])))
    .attr("y1", d => y(d[2])).attr("y2", d => y(d[2]))
    .attr("stroke", d => LINE_STYLE[d[3]][0])
    .attr("stroke-width", d => LINE_STYLE[d[3]][1] * k)
    .attr("stroke-opacity", d => LINE_STYLE[d[3]][2]);
}

function drawZones(g, list, x, y) {
  g.append("g").selectAll("rect").data(list).join("rect")
    .attr("x", d => x(T(d[0]))).attr("width", d => x(T(d[1])) - x(T(d[0])))
    .attr("y", d => y(d[3])).attr("height", d => y(d[2]) - y(d[3]))
    .attr("fill", d => ZONE_STYLE[d[4]][0]).attr("fill-opacity", d => ZONE_STYLE[d[4]][1]);
}

function drawDots(g, list, x, y, r) {
  g.append("g").selectAll("circle").data(list).join("circle")
    .attr("cx", d => x(T(d[0]))).attr("cy", d => y(d[1])).attr("r", r)
    .attr("fill", d => DOT_STYLE[d[2]]);
}

function drawPhases(g, list, level, x, y, h) {
  g.append("g").selectAll("rect").data(list).join("rect")
    .attr("x", d => x(T(d[0])) + 0.6)
    .attr("width", d => Math.max(1, x(T(d[1])) - x(T(d[0])) - 1.2))
    .attr("y", y(level) - h / 2).attr("height", h)
    .attr("fill", d => PHASE_COLOR[d[2]]);
}

// annotation labels sit above-left of their anchor, joined by a short leader
function drawNotes(g, list, x, y) {
  const ng = g.append("g");
  list.forEach(([txt, t, p]) => {
    const ax = x(T(t)), ay = y(p);
    ng.append("line").attr("x1", ax - 10).attr("y1", ay - 22).attr("x2", ax).attr("y2", ay)
      .attr("stroke", "#333").attr("stroke-width", 1);
    ng.append("text").attr("x", ax - 8).attr("y", ay - 26).attr("text-anchor", "middle")
      .attr("font-size", 12).attr("fill", "#1a1a1a").text(txt);
  });
}

const fmtTick = v => String(+v.toFixed(1));

function xAxis(g, x, y0, ticks) {
  const a = g.append("g");
  ticks.forEach(([t, l1, l2]) => {
    const px = x(T(t));
    a.append("line").attr("x1", px).attr("x2", px).attr("y1", y0).attr("y2", y0 + 5)
      .attr("stroke", INK).attr("stroke-width", 1);
    a.append("text").attr("x", px).attr("y", y0 + 20).attr("text-anchor", "middle")
      .attr("font-size", 12.5).attr("fill", INK).text(l1);
    if (l2) a.append("text").attr("x", px).attr("y", y0 + 36).attr("text-anchor", "middle")
      .attr("font-size", 12.5).attr("fill", INK).text(l2);
  });
}

function yAxis(g, y, x0, vals) {
  const a = g.append("g");
  vals.forEach(v => {
    const py = y(v);
    a.append("line").attr("x1", x0 - 5).attr("x2", x0).attr("y1", py).attr("y2", py)
      .attr("stroke", INK).attr("stroke-width", 1);
    a.append("text").attr("x", x0 - 8).attr("y", py).attr("dy", "0.35em").attr("text-anchor", "end")
      .attr("font-size", 12.5).attr("fill", INK).text(fmtTick(v));
  });
}

function watermark(g, cx, cy, txt) {
  g.append("text").attr("x", cx).attr("y", cy).attr("dy", "0.35em").attr("text-anchor", "middle")
    .attr("font-size", 20).attr("fill", "#4a4a4a").attr("fill-opacity", 0.85).text(txt);
}

// ---------- title
svg.append("text").attr("x", 97).attr("y", 50).attr("font-size", 17.1).attr("font-weight", "bold")
  .attr("fill", "#1a1a1a").text(title);

// ---------- main top (15m)
{
  const box = { x0: 471, x1: 1588, y0: 101, y1: 430 };
  const g = svg.append("g");
  const x = d3.scaleTime().domain([T("2026-08-06 06:00"), T("2026-08-07 12:00")]).range([489.9, 1574.4]);
  const y = d3.scaleLinear().domain([182.2, 182.7]).range([383, 132.7]);
  const times = m15.map((d, i) => d3.timeMinute.offset(T(m15Start), 15 * i));
  watermark(g, (box.x0 + box.x1) / 2, (box.y0 + box.y1) / 2, `${symbol} 15m`);
  drawCandles(g, m15, times, x, y, 5.5, 1.6);
  drawLevels(g, m15Levels, x, y);
  drawPhases(g, m15PhasesLow, m15PhaseLow, x, y, 5);
  drawPhases(g, m15PhasesMid, m15PhaseMid, x, y, 4);
  drawDots(g, m15Dots, x, y, 3.2);
  drawNotes(g, m15Notes, x, y);
  g.append("rect").attr("x", box.x0).attr("y", box.y0).attr("width", box.x1 - box.x0).attr("height", box.y1 - box.y0)
    .attr("fill", "none").attr("stroke", "#7474f2").attr("stroke-width", 3);
  xAxis(g, x, box.y1, m15XTicks);
  yAxis(g, y, box.x0, m15YTicks);
}

// ---------- main bottom (5m)
{
  const box = { x0: 471, x1: 1588, y0: 485, y1: 1004 };
  const g = svg.append("g");
  const x = d3.scaleTime().domain([T("2026-08-06 22:00"), T("2026-08-07 08:00")]).range([489.9, 1408]);
  const y = d3.scaleLinear().domain([180, 182.5]).range([984.6, 555.1]);
  const times = m5.map((d, i) => d3.timeMinute.offset(T(m5Start), 5 * i));
  watermark(g, (box.x0 + box.x1) / 2, (box.y0 + box.y1) / 2, `${symbol} 5m`);
  const xa = x(T(tradeFrom)), xb = x(T(tradeTo));
  g.append("rect").attr("x", xa).attr("width", xb - xa).attr("y", y(stopLoss)).attr("height", y(entryPrice) - y(stopLoss))
    .attr("fill", "#808080").attr("fill-opacity", 0.5).attr("stroke", "#666").attr("stroke-width", 1);
  g.append("rect").attr("x", xa).attr("width", xb - xa).attr("y", y(entryPrice)).attr("height", y(takeProfit) - y(entryPrice))
    .attr("fill", "#008000").attr("fill-opacity", 0.5).attr("stroke", "#666").attr("stroke-width", 1);
  drawZones(g, m5Zones, x, y);
  drawCandles(g, m5, times, x, y, 4.4, 1.2);
  drawLevels(g, m5Levels, x, y);
  drawDots(g, m5Dots, x, y, 3.2);
  drawNotes(g, m5Notes, x, y);
  g.append("rect").attr("x", box.x0).attr("y", box.y0).attr("width", box.x1 - box.x0).attr("height", box.y1 - box.y0)
    .attr("fill", "none").attr("stroke", "#ff7c7c").attr("stroke-width", 3);
  xAxis(g, x, box.y1, m5XTicks);
  yAxis(g, y, box.x0, m5YTicks);
}

// ---------- small panels
function smallPanel(cfg) {
  const g = svg.append("g");
  const x0 = 80, x1 = 417, y1 = cfg.bottom, y0 = y1 - 136.5;
  const { x, y } = cfg;
  watermark(g, (x0 + x1) / 2, (y0 + y1) / 2, `${symbol} ${cfg.tf}`);
  if (cfg.zones) drawZones(g, cfg.zones, x, y);
  drawCandles(g, cfg.data, cfg.times, x, y, cfg.bw, 1);
  drawLevels(g, cfg.levels, x, y, 0.8);
  if (cfg.phases) drawPhases(g, cfg.phases, cfg.phaseLevel, x, y, 3);
  drawDots(g, cfg.dots, x, y, 2.6);
  g.append("line").attr("x1", x0).attr("x2", x0).attr("y1", y0).attr("y2", y1).attr("stroke", INK).attr("stroke-width", 1);
  g.append("line").attr("x1", x0).attr("x2", x1).attr("y1", y1).attr("y2", y1).attr("stroke", INK).attr("stroke-width", 1);
  xAxis(g, x, y1, cfg.xTicks);
  yAxis(g, y, x0, cfg.yTicks);
}

const d1Times = [];
for (let d = T(d1Start); d1Times.length < d1.length; d = d3.timeDay.offset(d, 1)) {
  if (d.getDay() !== 0 && d.getDay() !== 6) d1Times.push(d);
}

smallPanel({
  tf: "1mn", bottom: 237.5, data: mn, bw: 2.8,
  times: mn.map((d, i) => d3.timeMonth.offset(T(mnStart), i)),
  x: d3.scaleTime().domain([T("2022-01-01"), T("2026-01-01")]).range([122.3, 327.6]),
  y: d3.scaleLinear().domain([120, 180]).range([234.6, 125.3]),
  levels: mnLevels, dots: mnDots, phases: mnPhases, phaseLevel: mnPhaseLevel,
  xTicks: mnXTicks, yTicks: mnYTicks
});
smallPanel({
  tf: "1w", bottom: 429, data: wk, bw: 2.8,
  times: wk.map((d, i) => d3.timeDay.offset(T(wkStart), 7 * i)),
  x: d3.scaleTime().domain([T("2025-07-01"), T("2026-07-01")]).range([115, 337.5]),
  y: d3.scaleLinear().domain([170, 190]).range([393.5, 291.5]),
  zones: wkZones, levels: wkLevels, dots: wkDots, phases: wkPhases, phaseLevel: wkPhaseLevel,
  xTicks: wkXTicks, yTicks: wkYTicks
});
smallPanel({
  tf: "1d", bottom: 620.5, data: d1, bw: 2.4, times: d1Times,
  x: d3.scaleTime().domain([T("2026-06-01"), T("2026-07-01"), T("2026-08-01"), T("2026-09-01")])
    .range([147.7, 221.2, 296.2, 393.2]),
  y: d3.scaleLinear().domain([180, 185]).range([602, 534]),
  zones: d1Zones, levels: d1Levels, dots: d1Dots,
  xTicks: d1XTicks, yTicks: d1YTicks
});
smallPanel({
  tf: "4h", bottom: 812, data: h4, bw: 2.2,
  times: h4.map((d, i) => d3.timeHour.offset(T(h4Start), 4 * i)),
  x: d3.scaleTime().domain([T("2026-07-26"), T("2026-08-02")]).range([121.7, 250.5]),
  y: d3.scaleLinear().domain([180, 185]).range([794, 725.5]),
  zones: h4Zones, levels: h4Levels, dots: h4Dots,
  xTicks: h4XTicks, yTicks: h4YTicks
});
smallPanel({
  tf: "1h", bottom: 1003.5, data: h1, bw: 2.8,
  times: h1.map((d, i) => d3.timeHour.offset(T(h1Start), i)),
  x: d3.scaleTime().domain([T("2026-08-05"), T("2026-08-07")]).range([165, 370]),
  y: d3.scaleLinear().domain([181.5, 182.5]).range([969.5, 890]),
  levels: h1Levels, dots: h1Dots, phases: h1Phases, phaseLevel: h1PhaseLevel,
  xTicks: h1XTicks, yTicks: h1YTicks
});

// ---------- report column
{
  const X = { rule: 1596, body: 1595, legend: 1630, instant: 1612, hLegend: 1662, hNarr: 1661, hProg: 1667, hRep: 1677 };
  const rule = "-".repeat(72);
  const rg = svg.append("g").attr("font-size", 9.5).attr("fill", "#1a1a1a").style("white-space", "pre");
  reportLines.forEach(([kind, txt], k) => {
    rg.append("text").attr("x", X[kind]).attr("y", 89 + 12.4 * k).attr("dy", "0.35em")
      .text(kind === "rule" ? rule : txt);
  });
}
</script>
</body>
</html>
